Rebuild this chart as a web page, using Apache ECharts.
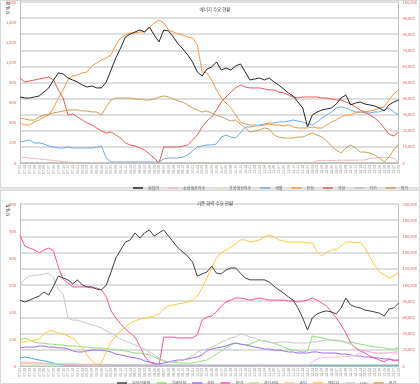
<!DOCTYPE html>
<html><head><meta charset="utf-8">
<script src="https://cdn.jsdelivr.net/npm/echarts@6/dist/echarts.min.js"></script>
<style>html,body{margin:0;padding:0;background:#fff}#c{width:420px;height:384px}</style>
</head><body><div id="c"></div>
<script>
const categories = ["07.01","07.02","07.03","07.04","07.05","07.06","07.07","07.08","07.09","07.10","07.11","07.12",
"08.01","08.02","08.03","08.04","08.05","08.06","08.07","08.08","08.09","08.10","08.11","08.12",
"09.01","09.02","09.03","09.04","09.05","09.06","09.07","09.08","09.09","09.10","09.11","09.12",
"10.01","10.02","10.03","10.04","10.05","10.06","10.07","10.08","10.09","10.10","10.11","10.12",
"11.01","11.02","11.03","11.04","11.05","11.06","11.07","11.08","11.09","11.10","11.11","11.12",
"12.01","12.02","12.03","12.04","12.05","12.06","12.07","12.08","12.09","12.10","12.11","12.12",
"13.01","13.02","13.03","13.04","13.05","13.06","13.07","13.08"];

// ---- top chart ----
const topTitle = "에너지 수요 현황";
const topNames = ["원달러","소비생산지수","가공생산지수","개발","유상","가상","기기","유가"];
const topBlack = [656,646,646,656,666,706,746,825,895,885,845,825,805,775,755,765,746,746,805,924,1044,1143,1252,1282,1302,1322,1302,1352,1272,1203,1322,1312,1252,1183,1133,1074,1004,905,865,934,954,1004,924,944,924,964,984,905,825,835,845,825,845,805,775,736,696,666,606,547,358,477,507,527,537,547,586,646,676,577,596,606,586,577,567,547,517,577,606,626];
const topPink = [60,55,50,45,40,35,30,25,20,15,10,6,3,0,0,0,0,0,0,0,0,0,0,0,0,0,0,0,0,0,0,0,0,0,0,0,0,0,0,0,0,0,0,0,0,0,0,0,0,0,0,0,0,0,0,0,0,0,0,0,0,0,25,25,26,25,27,28,28,27,28,29,30,45,50,52,55,55,50,0];
const topPale = [5,5,5,5,5,5,5,5,5,5,5,5,5,5,5,5,5,5,5,5,5,5,5,5,5,5,5,5,5,5,5,5,5,5,5,5,5,5,5,5,5,5,5,5,5,5,5,5,5,5,5,5,5,5,5,5,5,5,5,5,5,5,5,5,5,5,5,5,5,5,5,5,5,5,5,5,5,5,5,5];
const topBlue = [209,219,229,199,199,189,169,159,149,149,159,149,149,149,149,149,159,169,50,10,10,10,10,10,10,10,10,10,10,10,40,50,50,50,60,80,119,159,169,179,179,189,258,278,258,248,298,358,358,368,378,388,398,398,408,408,417,427,417,408,388,378,408,447,477,507,547,557,547,527,507,507,497,497,507,507,527,547,507,477];
const topOrange = [398,378,378,408,427,457,477,547,646,726,825,865,875,895,905,964,994,1024,1044,1074,1173,1243,1272,1292,1292,1302,1302,1342,1392,1421,1392,1322,1302,1282,1272,1252,1243,1173,905,895,825,726,646,596,547,477,408,388,378,378,368,378,388,378,378,368,378,358,348,348,348,358,348,348,378,408,427,457,477,477,497,507,507,517,527,547,557,626,686,726];
const topRed = [845,805,815,825,835,845,855,825,726,646,477,487,457,427,398,378,348,318,298,308,278,249,199,179,169,149,129,89,50,0,159,159,159,159,169,179,229,278,358,417,457,527,606,656,706,746,775,755,746,746,746,736,726,726,706,696,676,656,646,656,656,656,656,646,646,636,626,626,606,587,557,527,507,477,447,408,348,288,268,308];
const topGray = [2,2,2,2,2,2,2,2,2,2,2,2,2,2,2,2,2,2,2,2,2,2,2,2,2,2,2,2,2,2,2,2,2,2,2,2,2,2,2,2,2,2,2,2,2,2,2,2,2,2,2,2,2,2,2,2,2,2,2,2,2,2,2,2,2,2,2,2,2,2,2,2,2,2,2,2,2,2,2,2];
const topTan = [447,437,427,427,457,477,487,497,507,517,527,527,527,517,517,507,507,477,557,626,646,646,646,646,636,636,626,626,636,656,666,656,636,616,606,577,547,527,507,517,497,477,457,437,417,427,388,348,308,318,328,348,338,278,258,248,248,248,258,258,278,298,278,258,219,169,129,99,149,179,149,109,109,99,80,50,10,60,129,189];

// ---- bottom chart ----
const botTitle = "기존 화력 수요 현황";
const botNames = ["원달러환율","결제부석","석탄","유연","기타석탄","순탄","엔지원","LNG","유가","기타발전"];
const botBlack = [244,237,244,252,259,274,263,296,333,326,319,304,319,300,293,293,285,282,300,348,400,430,459,467,493,474,493,504,481,493,504,481,459,437,422,407,385,333,341,348,370,344,341,356,363,363,344,326,319,319,319,319,311,296,282,270,256,244,215,178,133,178,193,200,204,200,193,215,252,226,219,215,207,204,200,196,185,211,215,233];
const botGreen = [96,104,96,89,85,85,81,81,78,78,74,74,74,70,70,67,67,67,63,63,59,59,56,52,48,48,44,41,33,26,19,15,15,11,11,11,11,15,19,22,33,44,56,67,78,85,81,78,81,89,96,93,89,85,78,70,63,59,56,52,56,111,107,104,100,96,93,93,89,89,85,81,78,74,70,70,67,63,63,67];
const botPurple = [67,70,70,70,74,74,70,70,67,67,63,56,52,52,56,59,59,59,56,52,44,41,37,33,30,26,19,15,11,7,11,15,19,22,22,26,30,33,41,56,63,67,70,74,81,85,81,78,74,70,67,63,63,59,59,56,52,52,48,48,48,52,52,48,48,48,48,44,44,41,37,37,33,33,30,30,26,26,22,22];
const botMagenta = [485,444,437,430,419,430,437,426,367,322,307,293,293,293,293,289,289,282,256,204,178,156,137,122,107,74,37,15,7,0,107,107,107,104,104,104,104,115,170,181,185,200,222,237,244,252,252,248,244,248,252,248,244,244,244,244,241,241,237,241,244,252,244,233,222,200,178,152,122,85,67,56,48,37,30,22,15,26,19,22];
const botYG = [8,8,8,7,7,7,6,6,6,5,5,5,4,4,4,3,3,3,2,2,2,2,2,2,2,2,2,2,2,2,2,2,2,2,2,2,2,2,2,2,2,2,2,2,2,2,2,2,2,2,2,2,2,2,2,2,2,2,2,2,2,2,2,2,2,2,2,2,2,2,2,2,2,2,2,2,2,2,2,2];
const botPeach = [12,12,11,11,10,10,10,9,9,8,8,8,7,7,6,6,6,5,5,5,4,4,4,4,3,3,3,3,3,3,3,3,3,3,3,3,3,3,3,3,3,3,3,3,3,3,3,3,3,3,3,3,3,3,3,3,3,3,3,3,3,3,3,3,3,3,3,3,3,3,3,3,3,3,3,3,3,3,3,3];
const botYellow = [89,89,93,96,100,119,130,130,122,119,111,104,85,67,41,19,4,11,52,89,111,130,144,159,167,174,178,181,185,193,211,222,226,230,233,237,244,259,289,326,363,400,419,430,441,452,467,467,459,463,467,478,485,478,467,463,459,459,459,459,456,456,422,407,422,430,430,444,459,459,456,459,437,404,374,348,337,326,333,348];
const botGray = [300,322,333,337,337,341,344,326,282,267,178,170,170,163,159,152,148,141,130,122,111,100,93,85,78,70,63,52,41,30,19,15,15,19,22,30,37,52,59,63,70,78,89,96,104,107,119,115,107,104,96,93,89,85,89,89,89,85,85,85,85,89,89,93,96,96,96,93,85,81,70,59,56,52,48,48,48,48,52,52];
const botTeal = [30,33,30,26,22,19,15,11,7,4,3,3,3,3,3,3,3,3,3,3,3,3,3,3,3,3,3,3,3,3,3,3,3,3,3,3,3,3,3,3,3,3,3,3,3,3,3,3,3,3,3,3,3,3,3,3,3,3,3,3,3,3,3,3,3,3,3,3,3,3,3,3,3,3,3,3,3,3,3,3];
const botLightPink = [15,15,14,13,12,11,10,9,8,7,6,5,4,3,3,2,2,1,1,0,0,0,0,0,0,0,0,0,0,0,0,0,0,0,0,0,0,0,0,0,0,0,0,0,0,0,0,0,0,0,0,0,0,0,0,0,0,0,0,0,0,15,26,30,32,33,33,34,35,37,40,48,56,52,48,46,48,50,48,48];

const topColors = ["#262626","#f4b6c2","#d7e4bd","#6fa8dc","#f79646","#ec5a5a","#bfbfbf","#c4a35a"];
const botColors = ["#404040","#8fdc7a","#9a6cf2","#ff4fa3","#c3d69b","#fbc8a0","#ffc93c","#c8c8c8","#4bacc6","#ffb8e0"];
const topData = [topBlack,topPink,topPale,topBlue,topOrange,topRed,topGray,topTan];
const botData = [botBlack,botGreen,botPurple,botMagenta,botYG,botPeach,botYellow,botGray,botTeal,botLightPink];

const F = "Noto Sans CJK KR";
const red = "#e05a5a";
function fmt(v){return v.toString().replace(/\B(?=(\d{3})+(?!\d))/g, ",");}

const series = [];
topData.forEach((d,i)=>series.push({name:topNames[i],type:'line',xAxisIndex:0,yAxisIndex:0,data:d,symbol:'none',
  lineStyle:{width:1,color:topColors[i]},itemStyle:{color:topColors[i]},z:i===0?5:3}));
botData.forEach((d,i)=>series.push({name:botNames[i],type:'line',xAxisIndex:1,yAxisIndex:2,data:d,symbol:'none',
  lineStyle:{width:1,color:botColors[i]},itemStyle:{color:botColors[i]},z:i===0?5:3}));

const xa = (gi)=>({type:'category',gridIndex:gi,data:categories,boundaryGap:false,
  axisLine:{lineStyle:{color:'#bfbfbf'}},axisTick:{show:false},
  axisLabel:{interval:0,rotate:90,fontSize:3.6,color:'#7f7f7f',fontFamily:F,margin:2}});

const chart = echarts.init(document.getElementById('c'));
chart.setOption({
  animation:false,
  backgroundColor:'#fff',
  textStyle:{fontFamily:F},
  title:[
    {text:topTitle,left:210,top:2,textAlign:'center',textStyle:{fontSize:4.5,fontWeight:'normal',color:'#404040',fontFamily:F}},
    {text:botTitle,left:210,top:196,textAlign:'center',textStyle:{fontSize:4.5,fontWeight:'normal',color:'#404040',fontFamily:F}}
  ],
  legend:[
    {data:topNames,left:128,top:181,itemWidth:10,itemHeight:1.5,itemGap:9,icon:'rect',
     textStyle:{fontSize:4,color:'#595959',fontFamily:F}},
    {data:botNames,left:112,top:376,itemWidth:10,itemHeight:1.5,itemGap:6,icon:'rect',
     textStyle:{fontSize:4,color:'#595959',fontFamily:F}}
  ],
  grid:[
    {left:20,right:15,top:2,height:161},
    {left:20,right:15,top:204,height:162}
  ],
  xAxis:[xa(0),xa(1)],
  yAxis:[
    {type:'value',gridIndex:0,min:0,max:1600,interval:200,position:'left',
     axisLine:{show:true,lineStyle:{color:'#bfbfbf'}},axisTick:{show:false},splitLine:{show:false},
     axisLabel:{fontSize:4,color:red,margin:4,formatter:fmt}},
    {type:'value',gridIndex:0,min:0,max:100000,interval:10000,position:'right',
     axisLine:{show:true,lineStyle:{color:'#bfbfbf'}},axisTick:{show:false},
     splitLine:{show:true,lineStyle:{color:'#d4d4d4',width:1.5}},
     axisLabel:{fontSize:4,color:red,margin:4,formatter:fmt}},
    {type:'value',gridIndex:1,min:0,max:600,interval:100,position:'left',
     axisLine:{show:true,lineStyle:{color:'#bfbfbf'}},axisTick:{show:false},splitLine:{show:false},
     axisLabel:{fontSize:4,color:red,margin:4}},
    {type:'value',gridIndex:1,min:0,max:200000,interval:20000,position:'right',
     axisLine:{show:true,lineStyle:{color:'#bfbfbf'}},axisTick:{show:false},
     splitLine:{show:true,lineStyle:{color:'#d4d4d4',width:1.5}},
     axisLabel:{fontSize:4,color:red,margin:4}}
  ],
  graphic:[
    {type:'rect',shape:{x:0.5,y:0.5,width:419,height:187},style:{fill:'none',stroke:'#d9d9d9',lineWidth:1},silent:true},
    {type:'rect',shape:{x:0,y:188,width:420,height:2},style:{fill:'#e6e6e6'},silent:true},
    {type:'rect',shape:{x:0.5,y:190.5,width:419,height:193},style:{fill:'none',stroke:'#d9d9d9',lineWidth:1},silent:true},
    {type:'text',x:6,y:14,rotation:Math.PI/2,style:{text:'단위:원',fontSize:4,fill:'#404040',fontFamily:F}},
    {type:'text',x:6,y:216,rotation:Math.PI/2,style:{text:'단위:톤',fontSize:4,fill:'#404040',fontFamily:F}}
  ],
  series:series
});
</script></body></html>
